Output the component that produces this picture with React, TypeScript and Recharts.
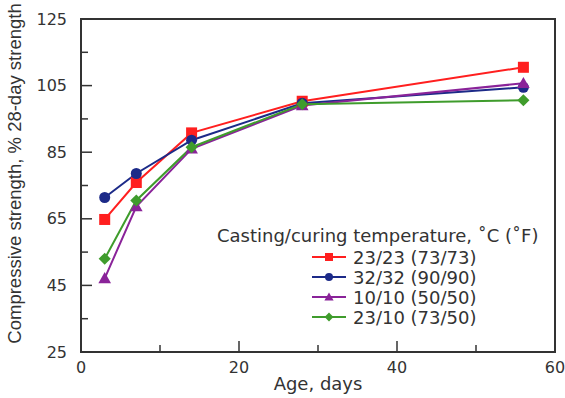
import { LineChart, Line, XAxis, YAxis, ReferenceArea, Label } from 'recharts';

const ageDays = [3, 7, 14, 28, 56];
const s2323 = [64.8, 75.9, 90.8, 100.3, 110.5];
const s3232 = [71.4, 78.6, 88.6, 99.7, 104.5];
const s1010 = [47.1, 68.7, 86.0, 99.0, 105.7];
const s2310 = [53.0, 70.5, 86.5, 99.4, 100.6];

const xTicks = [0, 10, 20, 30, 40, 50, 60];
const xLabeled = [0, 20, 40, 60];
const yTicks = [25, 35, 45, 55, 65, 75, 85, 95, 105, 115, 125];
const yLabeled = [25, 45, 65, 85, 105, 125];

const legendTitle = 'Casting/curing temperature, \u02DAC (\u02DAF)';

const series = [
  { key: 'a', name: '23/23 (73/73)', color: '#ff1f1f', shape: 'square', values: s2323 },
  { key: 'b', name: '32/32 (90/90)', color: '#1c2a88', shape: 'circle', values: s3232 },
  { key: 'c', name: '10/10 (50/50)', color: '#8a2399', shape: 'triangle', values: s1010 },
  { key: 'd', name: '23/10 (73/50)', color: '#3f9c2c', shape: 'diamond', values: s2310 },
];

const data = ageDays.map((d, i) => {
  const row: Record<string, number> = { age: d };
  series.forEach((s) => (row[s.key] = s.values[i]));
  return row;
});

const FONT = '"DejaVu Sans", sans-serif';
const INK = '#333';

function Marker({ shape, cx, cy, color, r }: any) {
  if (cx == null || cy == null) return null;
  if (shape === 'square')
    return <rect x={cx - r} y={cy - r} width={r * 2} height={r * 2} fill={color} />;
  if (shape === 'circle') return <circle cx={cx} cy={cy} r={r} fill={color} />;
  if (shape === 'triangle') {
    const h = r * 1.15;
    return <polygon points={`${cx},${cy - h} ${cx + h},${cy + h * 0.75} ${cx - h},${cy + h * 0.75}`} fill={color} />;
  }
  return <polygon points={`${cx},${cy - r * 1.1} ${cx + r * 1.1},${cy} ${cx},${cy + r * 1.1} ${cx - r * 1.1},${cy}`} fill={color} />;
}

// y ticks: label on the left, tick mark pointing into the plot
const Y_GAP = 14;
function YTick({ x, y, payload }: any) {
  const major = yLabeled.includes(payload.value);
  const ax = x + Y_GAP;
  return (
    <g>
      <line x1={ax} x2={ax + (major ? 11 : 7)} y1={y} y2={y} stroke={INK} strokeWidth={1.5} />
      {major && (
        <text x={x} y={y} textAnchor="end" dominantBaseline="central" fontSize={16} fontFamily={FONT} fill={INK}>
          {payload.value}
        </text>
      )}
    </g>
  );
}

const X_GAP = 9;
function XTick({ x, y, payload }: any) {
  const major = xLabeled.includes(payload.value);
  const ay = y - X_GAP;
  return (
    <g>
      <line x1={x} x2={x} y1={ay} y2={ay - (major ? 11 : 7)} stroke={INK} strokeWidth={1.5} />
      {major && (
        <text x={x} y={y} textAnchor="middle" dominantBaseline="hanging" fontSize={16} fontFamily={FONT} fill={INK}>
          {payload.value}
        </text>
      )}
    </g>
  );
}

function LegendBox() {
  return (
    <svg width={345} height={110} style={{ position: 'absolute', left: 212, top: 222 }}>
      <text x={5} y={13} dominantBaseline="central" fontSize={18} fontFamily={FONT} fill={INK}>
        {legendTitle}
      </text>
      {series.map((s, i) => {
        const cy = 35 + i * 20;
        return (
          <g key={s.key}>
            <line x1={100} x2={134} y1={cy} y2={cy} stroke={s.color} strokeWidth={2} />
            <Marker shape={s.shape} cx={117} cy={cy} color={s.color} r={4} />
            <text x={141} y={cy} dominantBaseline="central" fontSize={18} fontFamily={FONT} fill={INK}>
              {s.name}
            </text>
          </g>
        );
      })}
    </svg>
  );
}

export default function App() {
  return (
    <div style={{ position: 'absolute', left: 0, top: 0, width: 565, height: 398, background: '#fff' }}>
      <LineChart width={565} height={398} data={data} margin={{ top: 19, right: 10, bottom: 0, left: 0 }}>
        <XAxis
          dataKey="age"
          type="number"
          domain={[0, 60]}
          ticks={xTicks}
          interval={0}
          height={46}
          axisLine={false}
          tickLine={false}
          tickSize={0}
          tickMargin={X_GAP}
          tick={<XTick />}
        >
          <Label
            content={({ viewBox }: any) => (
              <text
                x={viewBox.x + viewBox.width / 2}
                y={viewBox.y + 31}
                textAnchor="middle"
                dominantBaseline="central"
                fontSize={18}
                fontFamily={FONT}
                fill={INK}
              >
                Age, days
              </text>
            )}
          />
        </XAxis>
        <YAxis
          type="number"
          domain={[25, 125]}
          ticks={yTicks}
          interval={0}
          width={81}
          axisLine={false}
          tickLine={false}
          tickSize={0}
          tickMargin={Y_GAP}
          tick={<YTick />}
        >
          <Label
            content={({ viewBox }: any) => {
              const cx = 14;
              const cy = viewBox.y + viewBox.height / 2 - 12;
              return (
                <text
                  x={cx}
                  y={cy}
                  transform={`rotate(-90, ${cx}, ${cy})`}
                  textAnchor="middle"
                  dominantBaseline="central"
                  fontSize={18.5}
                  fontFamily='"Liberation Sans", Arial, sans-serif'
                  fill={INK}
                >
                  Compressive strength, % 28-day strength
                </text>
              );
            }}
          />
        </YAxis>
        <ReferenceArea x1={0} x2={60} y1={25} y2={125} fill="none" stroke={INK} strokeWidth={2} ifOverflow="visible" />
        {series.map((s) => (
          <Line
            key={s.key}
            dataKey={s.key}
            name={s.name}
            stroke={s.color}
            strokeWidth={2}
            isAnimationActive={false}
            dot={(p: any) => <Marker key={`${s.key}-${p.index}`} shape={s.shape} cx={p.cx} cy={p.cy} color={s.color} r={5.5} />}
            activeDot={false}
          />
        ))}
      </LineChart>
      <LegendBox />
    </div>
  );
}
